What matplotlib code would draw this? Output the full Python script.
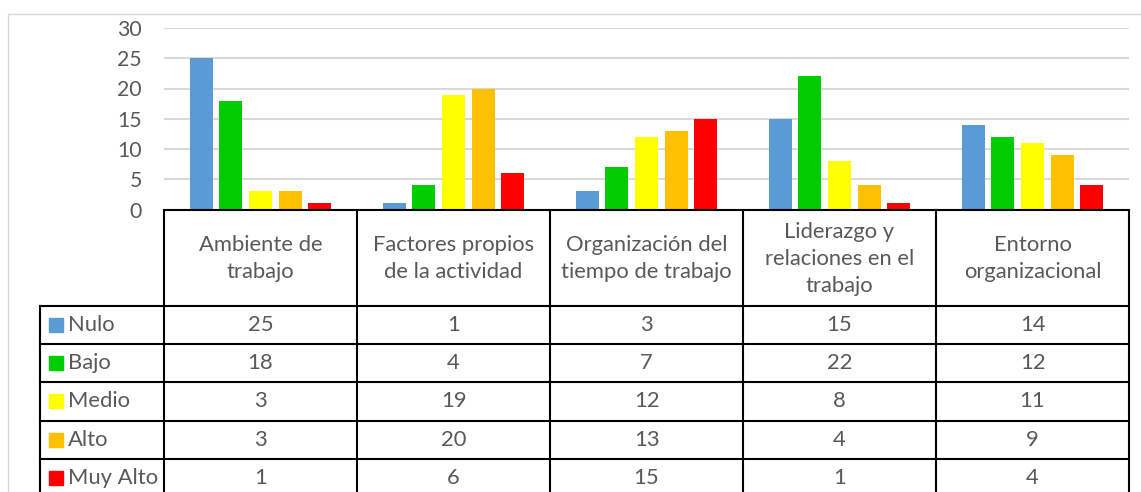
import matplotlib
matplotlib.use("Agg")
import matplotlib.pyplot as plt
from matplotlib.patches import Rectangle

categories = ["Ambiente de\ntrabajo", "Factores propios\nde la actividad",
              "Organización del\ntiempo de trabajo", "Liderazgo y\nrelaciones en el\ntrabajo",
              "Entorno\norganizacional"]
series = ["Nulo", "Bajo", "Medio", "Alto", "Muy Alto"]
nulo = [25, 1, 3, 15, 14]
bajo = [18, 4, 7, 22, 12]
medio = [3, 19, 12, 8, 11]
alto = [3, 20, 13, 4, 9]
muy_alto = [1, 6, 15, 1, 4]
yticks = [0, 5, 10, 15, 20, 25, 30]

values = [nulo, bajo, medio, alto, muy_alto]
colors = ["#5B9BD5", "#00CC00", "#FFFF00", "#FFC000", "#FF0000"]
txt = "#595959"
FONT = "Lato"
FS = 15.8
FS_TICK = 15.3

W, H = 1141, 492
fig = plt.figure(figsize=(W / 100, H / 100), dpi=100)

# outer chart border
fig.add_artist(Rectangle((8 / W, -0.01), 1.2, (H - 14) / H + 0.01, transform=fig.transFigure,
                         fill=False, edgecolor="#d9d9d9", lw=1.0))

x0, x1 = 164, 1129
y0, y1 = 209.5, 28
ax = fig.add_axes([x0 / W, (H - y0) / H, (x1 - x0) / W, (y0 - y1) / H])
ax.set_xlim(0, len(categories))
ax.set_ylim(0, 30)
ax.set_yticks(yticks)
ax.set_xticks([])
for s in ax.spines.values():
    s.set_visible(False)
ax.tick_params(axis="y", length=0, pad=16, labelsize=FS_TICK, labelcolor=txt)
for lab in ax.get_yticklabels():
    lab.set_fontfamily(FONT)
ax.yaxis.grid(True, color="#d9d9d9", lw=1.5)
ax.set_axisbelow(True)

bw = 0.119
step = 0.153
for j, (vals, c) in enumerate(zip(values, colors)):
    xs = [i + 0.5 + (j - 2) * step for i in range(len(categories))]
    ax.bar(xs, vals, width=bw, color=c, zorder=3)

# table
tx0 = 40
tax = fig.add_axes([tx0 / W, 0, (x1 - tx0) / W, (H - 210) / H])
left_u = (tx0 - x0) / (x1 - x0) * len(categories)
tax.set_xlim(left_u, len(categories))
tax.set_ylim(H, 210)
tax.axis("off")

row_y = [305.5, 344, 382, 420.5, 458.5]
lw = 1.5
k = "black"
tax.plot([0, len(categories)], [210, 210], color=k, lw=lw, clip_on=False, solid_capstyle="butt")
for i in range(len(categories) + 1):
    tax.plot([i, i], [210, H + 5], color=k, lw=lw, clip_on=False)
tax.plot([left_u, left_u], [row_y[0], H + 5], color=k, lw=lw, clip_on=False)
for y in row_y:
    tax.plot([left_u, len(categories)], [y, y], color=k, lw=lw, clip_on=False)

for i, cat in enumerate(categories):
    tax.text(i + 0.5, (210 + row_y[0]) / 2 + 1, cat, ha="center", va="center", fontsize=FS,
             color=txt, family=FONT, linespacing=1.45)

row_h = row_y[1] - row_y[0]
px = len(categories) / (x1 - x0)
for j, (name, vals, c) in enumerate(zip(series, values, colors)):
    yc = row_y[j] + row_h / 2
    tax.add_patch(Rectangle((left_u + 9 * px, yc - 7), 14 * px, 14, color=c, clip_on=False))
    tax.text(left_u + 28 * px, yc, name, ha="left", va="center",
             fontsize=FS, color=txt, family=FONT)
    for i, v in enumerate(vals):
        tax.text(i + 0.5, yc, str(v), ha="center", va="center", fontsize=FS, color=txt,
                 family=FONT)

fig.savefig("out.png", dpi=100)
